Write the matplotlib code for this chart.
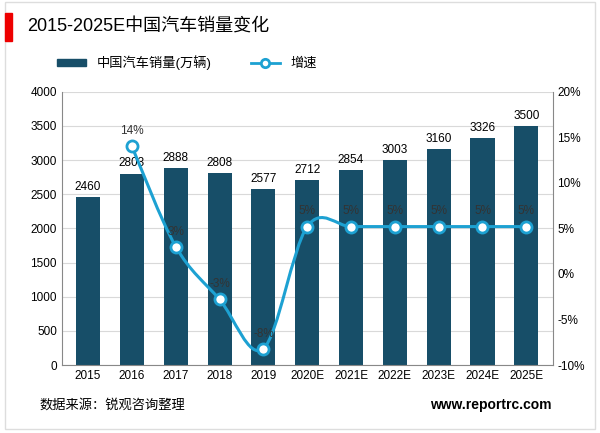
import numpy as np
import matplotlib
matplotlib.use("Agg")
import matplotlib.pyplot as plt
from matplotlib.path import Path
from matplotlib.patches import PathPatch, Rectangle
from matplotlib.lines import Line2D

plt.rcParams['font.family'] = ['Liberation Sans', 'Noto Sans CJK SC']

years = ['2015', '2016', '2017', '2018', '2019', '2020E', '2021E', '2022E', '2023E', '2024E', '2025E']
sales = [2460, 2803, 2888, 2808, 2577, 2712, 2854, 3003, 3160, 3326, 3500]
growth = [None, 14.0, 3.0, -2.8, -8.2, 5.2, 5.2, 5.2, 5.2, 5.2, 5.2]
growth_labels = ['', '14%', '3%', '-3%', '-8%', '5%', '5%', '5%', '5%', '5%', '5%']

bar_color = '#174e68'
line_color = '#1da1d2'

fig = plt.figure(figsize=(6.0, 4.33), dpi=100)
fig.patches.append(Rectangle((0.008, 0.01), 0.984, 0.985, transform=fig.transFigure,
                             fill=False, edgecolor='#dddddd', lw=1))
fig.patches.append(Rectangle((0.008, 0.905), 0.012, 0.065, transform=fig.transFigure,
                             color='#ee0000'))
fig.text(0.045, 0.937, '2015-2025E中国汽车销量变化', fontsize=13, va='center')

ax = fig.add_axes([0.103, 0.157, 0.818, 0.631])
x = np.arange(len(years))
ax.bar(x, sales, width=0.55, color=bar_color, zorder=2)
for xi, v in zip(x, sales):
    ax.text(xi, v + 60, str(v), ha='center', va='bottom', fontsize=8.5)
ax.set_ylim(0, 4000)
ax.set_yticks(range(0, 4001, 500))
ax.set_xlim(-0.6, len(years) - 0.4)
ax.set_xticks(x)
ax.set_xticklabels(years)
ax.tick_params(labelsize=8.5, length=0)
ax.grid(axis='y', color='#d9d9d9', lw=0.8, zorder=0)
for s in ['top', 'right']:
    ax.spines[s].set_visible(False)
ax.spines['left'].set_color('#888888')
ax.spines['bottom'].set_color('#888888')

ax2 = ax.twinx()
ax2.set_ylim(-10, 20)
ax2.set_yticks(range(-10, 21, 5))
ax2.set_yticklabels([f'{t}%' for t in range(-10, 21, 5)])
ax2.tick_params(labelsize=8.5, length=0)
for s in ['top', 'left', 'bottom']:
    ax2.spines[s].set_visible(False)
ax2.spines['right'].set_color('#888888')

gx = np.array([xi for xi, g in zip(x, growth) if g is not None], dtype=float)
gy = np.array([g for g in growth if g is not None], dtype=float)
# smooth curve through the points (Catmull-Rom as cubic Bezier)
verts = [(gx[0], gy[0])]
codes = [Path.MOVETO]
n = len(gx)
for i in range(n - 1):
    p0 = np.array([gx[max(i - 1, 0)], gy[max(i - 1, 0)]])
    p1 = np.array([gx[i], gy[i]])
    p2 = np.array([gx[i + 1], gy[i + 1]])
    p3 = np.array([gx[min(i + 2, n - 1)], gy[min(i + 2, n - 1)]])
    c1 = p1 + (p2 - p0) / 6
    c2 = p2 - (p3 - p1) / 6
    verts += [tuple(c1), tuple(c2), tuple(p2)]
    codes += [Path.CURVE4] * 3
ax2.add_patch(PathPatch(Path(verts, codes), fill=False, edgecolor=line_color, lw=2.2, zorder=3))
ax2.plot(gx, gy, 'o', ms=8, mfc='white', mec=line_color, mew=2, zorder=4)
for xi, g, lab in zip(x, growth, growth_labels):
    if g is not None:
        ax2.text(xi, g + 1.0, lab, ha='center', va='bottom', fontsize=8.5, color='#333333', zorder=5)

handles = [Rectangle((0, 0), 1, 1, color=bar_color),
           Line2D([0], [0], color=line_color, lw=2, marker='o', mfc='white', mec=line_color, mew=2, ms=6)]
fig.legend(handles, ['中国汽车销量(万辆)', '增速'], loc='center left', bbox_to_anchor=(0.075, 0.855),
           ncol=2, frameon=False, fontsize=9.5, handlelength=2.2, columnspacing=3, handleheight=0.5)

fig.text(0.065, 0.065, '数据来源：锐观咨询整理', fontsize=9.5, va='center')
fig.text(0.92, 0.065, 'www.reportrc.com', fontsize=10, fontweight='bold', ha='right', va='center')

fig.savefig('out.png', dpi=100)
